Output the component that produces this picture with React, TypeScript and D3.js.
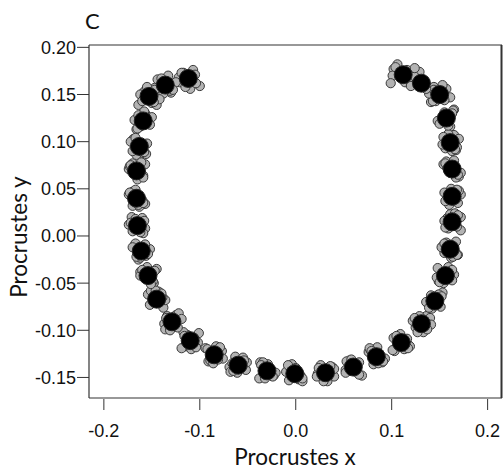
import React from "react";
import * as d3 from "d3";

// Mean landmark configuration (Procrustes coordinates), ordered left-top -> bottom -> right-top
const meanX = [
  -0.112, -0.136, -0.153, -0.159, -0.163, -0.166, -0.166, -0.165, -0.161, -0.154, -0.145,
  -0.129, -0.110, -0.085, -0.060, -0.030, -0.001, 0.031, 0.060, 0.084, 0.110, 0.131,
  0.145, 0.156, 0.161, 0.163, 0.163, 0.163, 0.161, 0.157, 0.150, 0.131, 0.112,
];
const meanY = [
  0.167, 0.160, 0.148, 0.122, 0.095, 0.069, 0.040, 0.011, -0.016, -0.042, -0.067,
  -0.091, -0.111, -0.126, -0.137, -0.143, -0.146, -0.145, -0.139, -0.128, -0.113, -0.093,
  -0.069, -0.042, -0.014, 0.015, 0.042, 0.071, 0.099, 0.125, 0.150, 0.162, 0.171,
];

// Individual specimen deviations from the mean (thousandths), one pair of arrays per specimen
const spec1dx = [5, -8, 3, 9, -6, 7, -4, 8, -7, 6, -9, 4, -5, 8, -3, 7, -6, 9, -4, 6, -8, 5, -7, 3, 8, -5, 6, -9, 4, -6, 7, -3, 10];
const spec1dy = [9, 6, -7, 4, 8, -5, 7, -3, 6, -8, 5, 7, -6, 4, 9, -5, 8, -4, 7, -6, 5, 8, -3, 9, -6, 4, -7, 5, 8, -5, 6, 9, -4];
const spec2dx = [-9, 6, -5, -7, 8, -4, 9, -6, 5, -8, 7, -3, 9, -6, 8, -7, 4, -5, 9, -8, 3, -6, 8, -7, -4, 9, -8, 7, -5, 8, -4, 6, -10];
const spec2dy = [-4, -8, 5, -9, 3, 8, -6, 9, -5, 4, -9, -6, 8, -7, -5, 9, -6, 8, -9, 5, -7, -4, 9, -6, 7, -9, 4, -8, -6, 9, -7, -5, 6];
const spec3dx = [12, 3, -9, 2, -3, -8, 3, -2, 9, -3, 2, -8, 4, 2, -9, 1, -3, 2, -4, 1, 8, -2, 3, -9, 1, -2, 9, -3, 2, -2, -9, 11, -6];
const spec3dy = [-8, 10, 2, 8, -9, 2, -9, 7, 2, -3, 8, -2, 3, 9, -2, 7, 10, -9, 2, 10, -3, 8, 6, -2, -9, 8, 2, -2, -9, 6, -8, -9, 11];
const spec4dx = [-5, -11, 8, -3, 4, 9, -8, 6, -3, 9, -4, 7, -9, -4, 5, -8, -9, 7, 3, -3, -7, 9, -3, 6, -8, 5, -3, -6, 9, -9, 3, -9, 2];
const spec4dy = [6, -3, -9, -6, -7, 7, 4, -8, -9, 7, -4, 9, -8, -6, 8, -8, 2, 6, -5, -8, -9, 6, -8, 5, 3, -5, -9, 8, 4, -3, 10, 3, -8];
const spec5dx = [2, 9, -2, 6, -9, 1, 6, -9, -6, -1, 9, -7, 1, 9, -1, 4, 8, -8, -8, 9, -1, 2, -9, -2, 6, -8, -1, 2, -8, 4, -2, -2, 8];
const spec5dy = [-11, 2, 10, -3, 5, -9, -2, 1, 8, 9, -1, -8, -9, -4, -8, 2, -8, -1, -3, -2, 9, -9, -1, -8, 8, 1, 8, 9, -2, -9, -3, 12, -9];
const spec6dx = [-10, -2, 11, -9, 2, -2, -4, 3, 7, 5, -6, 10, -3, -9, -6, 9, 6, -2, 6, -6, 6, 10, 4, 9, -6, -4, 4, 9, -2, 7, 11, 4, -11];
const spec6dy = [1, -9, -3, 1, -2, -1, -8, -7, -3, -6, 9, 3, 6, 7, 2, -2, -2, -9, -8, 7, 4, -1, 7, 1, -4, -7, -3, -4, 9, 8, -3, -2, -1];
const spec7dx = [7, 11, -11, 1, 7, -7, -1, -7, -1, -8, -1, -2, 8, -1, 9, -4, 1, 9, -7, 2, -9, -9, -6, -8, 3, 9, 7, -5, 6, -3, -7, -11, 4];
const spec7dy = [4, 3, -9, 10, -8, 5, 9, 3, -7, 0, 9, -9, -2, -9, 3, 9, 6, 4, 6, -7, -8, 3, -7, 8, -8, 5, 6, 1, -8, 3, -7, -3, 5];
const spec8dx = [-3, 5, 6, -6, -4, 5, 2, 5, -9, 3, 6, -5, -7, 6, -8, -2, -7, -9, -2, -7, 9, -4, 7, 7, -9, 3, -6, 4, 7, 2, -6, 8, -13];
const spec8dy = [-9, -6, 7, -8, 9, 9, -7, 8, 4, -9, 2, 6, 9, 8, -7, -8, 9, -4, 8, 9, -4, -9, 5, -5, 2, 9, -4, -9, -5, -8, 8, -11, -9];
const spec9dx = [8, -4, -7, 7, 5, -6, 7, -5, 4, 7, -7, -6, 6, 4, 6, -6, 8, 5, -8, 7, -5, 6, -4, -6, 7, -7, 5, 6, -7, 6, 5, -7, 12];
const spec9dy = [-5, 7, -5, -4, -6, 6, -5, -6, 7, 5, -6, 4, -7, -5, 5, 6, -5, 7, -6, -5, 7, -6, 6, -7, -6, -6, 7, -6, 6, 5, -6, 7, 7];
const spec10dx = [-7, 8, 5, -5, -7, 7, -7, 7, -5, -6, 5, 6, -6, -7, -5, 6, -6, -7, 6, -5, 7, -7, 6, 7, -6, 6, -7, -7, 5, -7, -6, 5, -8];
const spec10dy = [6, -5, -6, 6, -5, -7, 6, 5, -6, 6, 6, -6, 5, 6, -6, -6, -7, 5, 5, 6, -6, 6, -6, 6, 6, 7, -5, 6, -7, -6, 5, -6, 8];

const specimensDx = [spec1dx, spec2dx, spec3dx, spec4dx, spec5dx, spec6dx, spec7dx, spec8dx, spec9dx, spec10dx];
const specimensDy = [spec1dy, spec2dy, spec3dy, spec4dy, spec5dy, spec6dy, spec7dy, spec8dy, spec9dy, spec10dy];

const xTicks = [-0.2, -0.1, 0.0, 0.1, 0.2];
const yTicks = [-0.15, -0.1, -0.05, 0.0, 0.05, 0.1, 0.15, 0.2];

export default function App() {
  const W = 503;
  const H = 473;
  const left = 89;
  const right = 502;
  const top = 45;
  const bottom = 398;

  const x = d3.scaleLinear().domain([-0.2155, 0.215]).range([left, right]);
  const y = d3.scaleLinear().domain([-0.1718, 0.2025]).range([bottom, top]);

  const specimenPts: { px: number; py: number; key: string }[] = [];
  specimensDx.forEach((dxs, s) => {
    const dys = specimensDy[s];
    meanX.forEach((mx, i) => {
      specimenPts.push({
        px: x(mx + dxs[i] / 1000),
        py: y(meanY[i] + dys[i] / 1000),
        key: `s${s}-${i}`,
      });
    });
  });

  const axisFont = "'Liberation Sans', Arial, sans-serif";
  const titleFont = "Lato, 'Open Sans', sans-serif";

  return (
    <svg
      width={W}
      height={H}
      style={{ position: "absolute", left: 0, top: 0, background: "#fff" }}
    >
      <rect x={0} y={0} width={W} height={H} fill="#fff" />
      <text x={85} y={29} fontFamily={titleFont} fontSize={22} fill="#111">
        C
      </text>

      {/* frame */}
      <line x1={left} x2={right} y1={top} y2={top} stroke="#333" strokeWidth={1.2} />
      <line x1={left} x2={left} y1={top} y2={bottom} stroke="#333" strokeWidth={1.2} />
      <line x1={left} x2={right} y1={bottom} y2={bottom} stroke="#333" strokeWidth={1.2} />
      <line x1={right - 0.5} x2={right - 0.5} y1={top} y2={bottom} stroke="#333" strokeWidth={2} />

      {/* y axis ticks */}
      {yTicks.map((t) => (
        <g key={`y${t}`}>
          <line x1={left - 12} x2={left} y1={y(t)} y2={y(t)} stroke="#333" strokeWidth={1} />
          <text
            x={left - 13}
            y={y(t)}
            dy="0.36em"
            textAnchor="end"
            fontFamily={axisFont}
            fontSize={18}
            fill="#111"
          >
            {t.toFixed(2)}
          </text>
        </g>
      ))}

      {/* x axis ticks */}
      {xTicks.map((t) => (
        <g key={`x${t}`}>
          <line x1={x(t)} x2={x(t)} y1={bottom + 1} y2={bottom + 12} stroke="#333" strokeWidth={1} />
          <text
            x={x(t)}
            y={437}
            textAnchor="middle"
            fontFamily={axisFont}
            fontSize={18}
            fill="#111"
          >
            {t.toFixed(1)}
          </text>
        </g>
      ))}

      <text
        x={295}
        y={465}
        textAnchor="middle"
        fontFamily={titleFont}
        fontSize={22.5}
        fill="#111"
      >
        Procrustes x
      </text>
      <text
        transform={`translate(27, ${237}) rotate(-90)`}
        textAnchor="middle"
        fontFamily={titleFont}
        fontSize={22.5}
        fill="#111"
      >
        Procrustes y
      </text>

      {/* specimens */}
      <g>
        {specimenPts.map((p) => (
          <circle
            key={p.key}
            cx={p.px}
            cy={p.py}
            r={4.6}
            fill="#b3b3b3"
            stroke="#3a3a3a"
            strokeWidth={1}
          />
        ))}
      </g>

      {/* mean shape */}
      <g>
        {meanX.map((mx, i) => (
          <circle
            key={`m${i}`}
            cx={x(mx)}
            cy={y(meanY[i])}
            r={9}
            fill="#000"
            stroke="#222"
            strokeWidth={1}
          />
        ))}
      </g>
    </svg>
  );
}
